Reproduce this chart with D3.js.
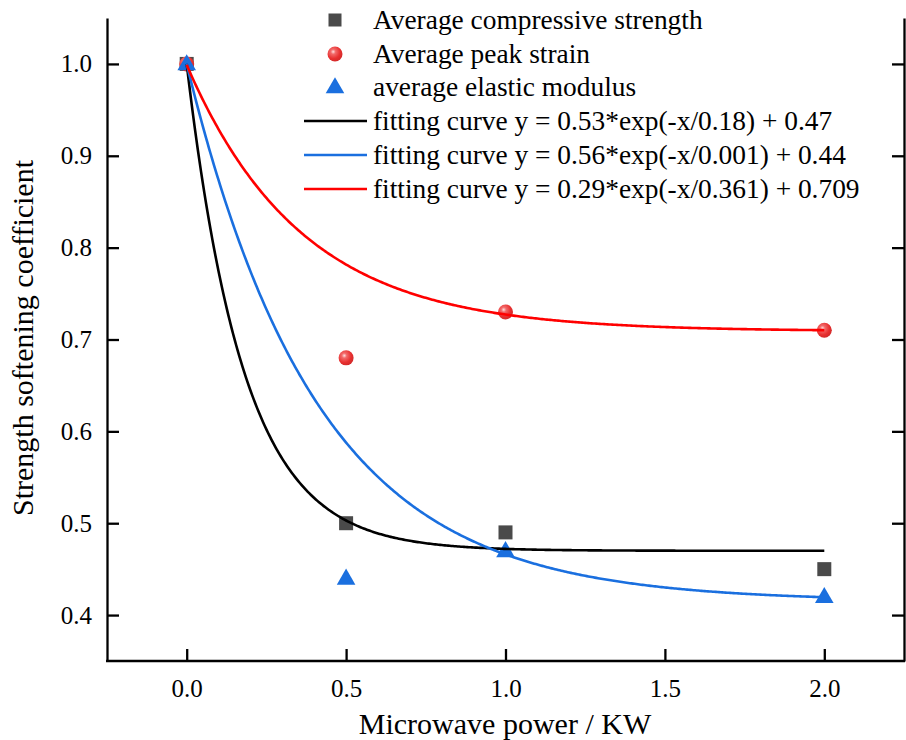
<!DOCTYPE html>
<html>
<head>
<meta charset="utf-8">
<script src="https://cdn.jsdelivr.net/npm/d3@7"></script>
<style>
  html, body { margin: 0; padding: 0; background: #fff; }
  svg text { font-family: "Liberation Serif", "Times New Roman", serif !important; fill: #000; }
</style>
</head>
<body>
<svg id="chart" width="906" height="740"></svg>
<script>
// Microwave power levels (kW)
const power = [0, 0.5, 1.0, 2.0];

// Measured softening coefficients
const compressiveStrength = [1.0, 0.50, 0.49, 0.45];
const peakStrain = [1.0, 0.68, 0.73, 0.71];
const elasticModulus = [1.0, 0.44, 0.47, 0.42];

// Exponential decay fits: [amplitude, decay constant, offset]
const fitCompressive = [0.53, 0.18, 0.47];
const fitElastic = [0.585, 0.41, 0.415];
const fitStrain = [0.29, 0.361, 0.709];

const xTicks = [0.0, 0.5, 1.0, 1.5, 2.0];
const yTicks = [0.4, 0.5, 0.6, 0.7, 0.8, 0.9, 1.0];

const legendLabels = [
  "Average compressive strength",
  "Average peak strain",
  "average elastic modulus",
  "fitting curve y = 0.53*exp(-x/0.18) + 0.47",
  "fitting curve y = 0.56*exp(-x/0.001) + 0.44",
  "fitting curve y = 0.29*exp(-x/0.361) + 0.709"
];

const colors = { square: "#4a4a4a", red: "#ff0000", blue: "#1a6fdf", black: "#000000" };
const serif = "'Liberation Serif', 'Times New Roman', serif";

const svg = d3.select("#chart");
const plotL = 107, plotR = 904, plotT = 18, plotB = 661;

const x = d3.scaleLinear().domain([-0.25, 2.25]).range([plotL, plotR]);
const y = d3.scaleLinear().domain([0.35, 1.05]).range([plotB, plotT]);

// Shaded sphere gradient for the strain markers
const defs = svg.append("defs");
const grad = defs.append("radialGradient").attr("id", "ball")
  .attr("cx", "38%").attr("cy", "35%").attr("r", "65%");
grad.append("stop").attr("offset", "0%").attr("stop-color", "#ffe0e0");
grad.append("stop").attr("offset", "25%").attr("stop-color", "#f26a6a");
grad.append("stop").attr("offset", "70%").attr("stop-color", "#e83030");
grad.append("stop").attr("offset", "100%").attr("stop-color", "#d42a2a");

// Axes
const axisW = 2.3;
const xAxis = svg.append("g").attr("transform", `translate(0,${plotB})`)
  .call(d3.axisBottom(x).tickValues(xTicks).tickSizeInner(-12).tickSizeOuter(0).tickPadding(18)
    .tickFormat(d3.format(".1f")));
const yAxis = svg.append("g").attr("transform", `translate(${plotL},0)`)
  .call(d3.axisLeft(y).tickValues(yTicks).tickSizeInner(-12).tickSizeOuter(0).tickPadding(15)
    .tickFormat(d3.format(".1f")));
const yAxisR = svg.append("g").attr("transform", `translate(${plotR},0)`)
  .call(d3.axisRight(y).tickValues(yTicks).tickSizeInner(-12).tickSizeOuter(0).tickFormat(""));

[xAxis, yAxis, yAxisR].forEach(g => {
  g.attr("font-family", serif).attr("font-size", 25);
  g.select(".domain").attr("stroke", "#000").attr("stroke-width", axisW);
  g.selectAll(".tick line").attr("stroke", "#000").attr("stroke-width", axisW);
  g.selectAll(".tick text").style("font-family", serif).style("font-size", "25px");
});
xAxis.select(".domain").attr("d", `M${plotL - 1},0H${plotR + 1}`);

// Axis titles
svg.append("text").attr("x", 505).attr("y", 734)
  .attr("text-anchor", "middle").style("font-family", serif).style("font-size", "30px")
  .text("Microwave power / KW");
svg.append("text").attr("transform", `translate(33,338) rotate(-90)`)
  .attr("text-anchor", "middle").style("font-family", serif).style("font-size", "30px")
  .text("Strength softening coefficient");

// Markers
const plot = svg.append("g");
const sq = 14;
plot.selectAll("rect.cs").data(power).join("rect").attr("class", "cs")
  .attr("x", (d) => x(d) - sq / 2).attr("y", (d, i) => y(compressiveStrength[i]) - sq / 2)
  .attr("width", sq).attr("height", sq).attr("fill", colors.square);
plot.selectAll("circle.ps").data(power).join("circle").attr("class", "ps")
  .attr("cx", (d) => x(d)).attr("cy", (d, i) => y(peakStrain[i]))
  .attr("r", 7.5).attr("fill", "url(#ball)");
const tri = d3.symbol().type(d3.symbolTriangle).size(150);
plot.selectAll("path.em").data(power).join("path").attr("class", "em")
  .attr("transform", (d, i) => `translate(${x(d)},${y(elasticModulus[i]) + 1})`)
  .attr("d", tri).attr("fill", colors.blue);

// Fitted curves
const xs = d3.range(0, 2.0001, 0.005);
const expFit = (p) => (t) => p[0] * Math.exp(-t / p[1]) + p[2];
const line = d3.line().x(d => x(d[0])).y(d => y(d[1]));
[[fitCompressive, colors.black], [fitElastic, colors.blue], [fitStrain, colors.red]].forEach(([p, c]) => {
  const f = expFit(p);
  plot.append("path").datum(xs.map(t => [t, f(t)]))
    .attr("d", line).attr("fill", "none").attr("stroke", c).attr("stroke-width", 2.6);
});

// Legend
const lg = svg.append("g");
const rowY = [20, 54, 87, 121, 155, 189];
const symX = 335, textX = 373;
lg.append("rect").attr("x", symX - 6.5).attr("y", rowY[0] - 6.5).attr("width", 13).attr("height", 13).attr("fill", colors.square);
lg.append("circle").attr("cx", symX).attr("cy", rowY[1]).attr("r", 7.5).attr("fill", "url(#ball)");
lg.append("path").attr("transform", `translate(${symX},${rowY[2] + 1})`).attr("d", tri).attr("fill", colors.blue);
[colors.black, colors.blue, colors.red].forEach((c, i) => {
  lg.append("line").attr("x1", 304).attr("x2", 367).attr("y1", rowY[3 + i]).attr("y2", rowY[3 + i])
    .attr("stroke", c).attr("stroke-width", 2.6);
});
legendLabels.forEach((t, i) => {
  lg.append("text").attr("x", textX).attr("y", rowY[i] + 9)
    .style("font-family", serif).style("font-size", "27.4px").text(t);
});
</script>
</body>
</html>
